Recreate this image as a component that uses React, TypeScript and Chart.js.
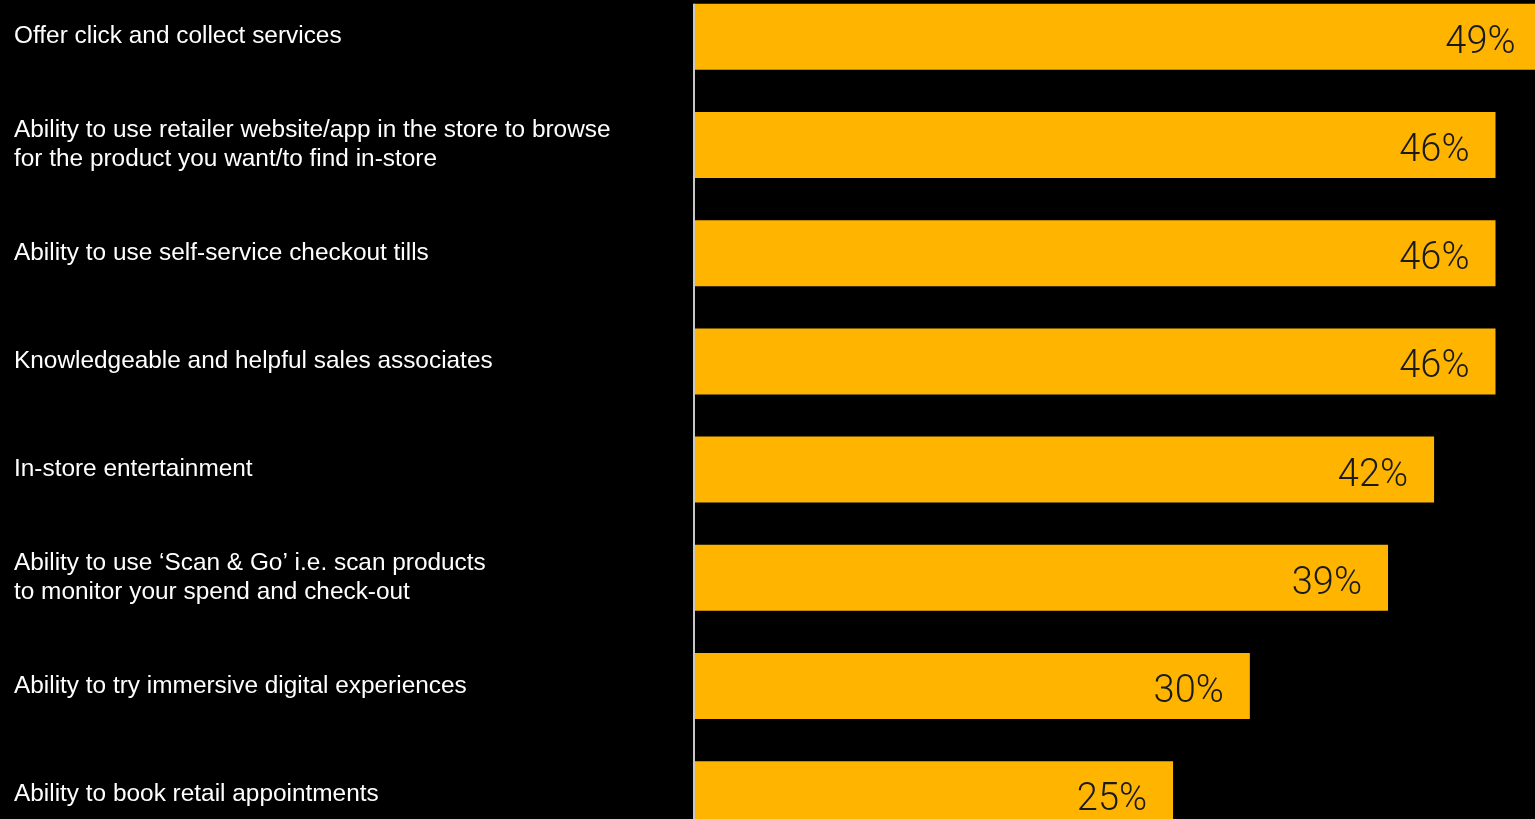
import React, { useEffect, useRef } from "react";
import { Chart, registerables } from "chart.js";

Chart.register(...registerables);

const categories: (string | string[])[] = [
  "Offer click and collect services",
  ["Ability to use retailer website/app in the store to browse", "for the product you want/to find in-store"],
  "Ability to use self-service checkout tills",
  "Knowledgeable and helpful sales associates",
  "In-store entertainment",
  ["Ability to use \u2018Scan & Go\u2019 i.e. scan products", "to monitor your spend and check-out"],
  "Ability to try immersive digital experiences",
  "Ability to book retail appointments",
];

const values: number[] = [49, 46, 46, 46, 42, 39, 30, 25];
const valueLabels: string[] = values.map((v) => v + "%");

const AXIS_MIN = -6.2;
const AXIS_MAX = 50.2;

const valueLabelPlugin = {
  id: "valueLabels",
  afterDatasetsDraw(chart: any) {
    const ctx = chart.ctx as CanvasRenderingContext2D;
    const meta = chart.getDatasetMeta(0);
    ctx.save();
    ctx.font = "300 38px Roboto, 'Liberation Sans', sans-serif";
    ctx.fillStyle = "#1a1a1a";
    ctx.textAlign = "right";
    ctx.textBaseline = "alphabetic";
    meta.data.forEach((bar: any, i: number) => {
      ctx.fillText(valueLabels[i], bar.x - 26, bar.y + 16);
    });
    const first = meta.data[0];
    const top = first.y - first.height / 2;
    const x = chart.chartArea.left;
    ctx.strokeStyle = "#c8c8c8";
    ctx.lineWidth = 2;
    ctx.beginPath();
    ctx.moveTo(x, top);
    ctx.lineTo(x, chart.chartArea.bottom);
    ctx.stroke();
    ctx.restore();
  },
};

export default function App() {
  const canvasRef = useRef<HTMLCanvasElement | null>(null);

  useEffect(() => {
    if (!canvasRef.current) return;
    const chart = new Chart(canvasRef.current, {
      type: "bar",
      data: {
        labels: categories as any,
        datasets: [
          {
            data: values,
            backgroundColor: "#FFB500",
            borderWidth: 0,
            base: AXIS_MIN,
            barPercentage: 0.61,
            categoryPercentage: 1,
          } as any,
        ],
      },
      options: {
        indexAxis: "y",
        animation: false,
        responsive: false,
        maintainAspectRatio: false,
        events: [],
        layout: { padding: { left: 14, right: 0, top: 0, bottom: 0 } },
        plugins: {
          legend: { display: false },
          tooltip: { enabled: false },
        },
        scales: {
          x: {
            type: "linear",
            display: false,
            min: AXIS_MIN,
            max: AXIS_MAX,
          },
          y: {
            grid: { display: false },
            border: { display: false },
            ticks: {
              color: "#ffffff",
              font: { family: "'Liberation Sans', Arial, sans-serif", size: 24.4, lineHeight: 1.2 },
              crossAlign: "far",
              autoSkip: false,
              padding: 0,
            },
            afterFit: (scale: any) => {
              scale.width = 680;
            },
          },
        },
      } as any,
      plugins: [valueLabelPlugin],
    });
    return () => chart.destroy();
  }, []);

  return (
    <div
      style={{
        position: "fixed",
        left: 0,
        top: 0,
        width: 1535,
        height: 819,
        overflow: "hidden",
        background: "#000",
      }}
    >
      <canvas
        ref={canvasRef}
        width={1560}
        height={895}
        style={{ position: "absolute", left: 0, top: -32, width: 1560, height: 895 }}
      />
    </div>
  );
}
